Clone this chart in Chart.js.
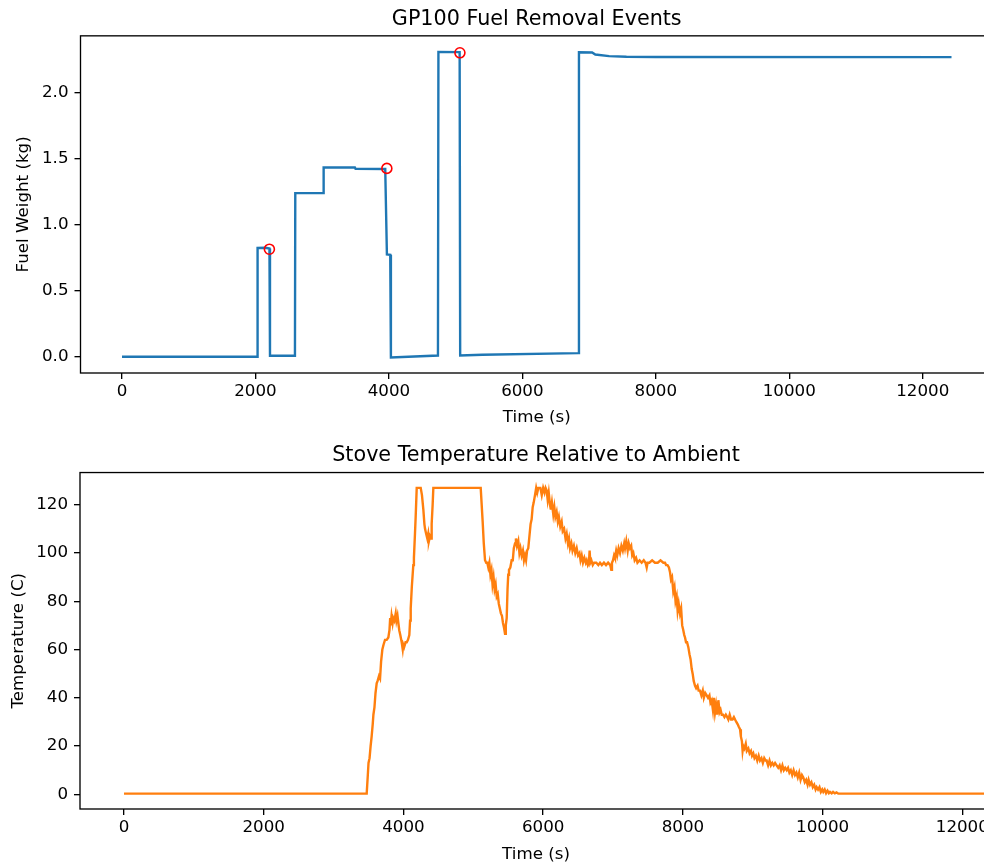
<!DOCTYPE html>
<html><head><meta charset="utf-8">
<script src="https://cdn.jsdelivr.net/npm/chart.js@4.4.0/dist/chart.umd.min.js"></script>
<style>
html,body{margin:0;padding:0;background:#fff;overflow:hidden;width:984px;height:863px;position:relative;}
#c1{position:absolute;left:0;top:0;}
#c2{position:absolute;left:0;top:430px;}
</style></head><body>
<canvas id="c1" width="993" height="430"></canvas>
<canvas id="c2" width="992" height="440"></canvas>
<script>
// ---------- data ----------
const fuelTitle = 'GP100 Fuel Removal Events';
const tempTitle = 'Stove Temperature Relative to Ambient';
const xLabel = 'Time (s)';
const fuelLabel = 'Fuel Weight (kg)';
const tempLabel = 'Temperature (C)';
const xTicks = [0, 2000, 4000, 6000, 8000, 10000, 12000];
const fuelTicks = [0.0, 0.5, 1.0, 1.5, 2.0];
const tempTicks = [0, 20, 40, 60, 80, 100, 120];

// fuel weight [time s, kg]
const fuelPoints = [
  [0, 0.003], [2028, 0.003], [2032, 0.824], [2150, 0.826], [2210, 0.82], [2218, 0.01],
  [2592, 0.01], [2597, 1.238], [3015, 1.238], [3022, 1.433], [3490, 1.432], [3500, 1.422],
  [3945, 1.42], [3970, 0.775], [4020, 0.772], [4030, -0.003], [4735, 0.012], [4742, 2.305],
  [5060, 2.303], [5068, 0.012], [5400, 0.018], [6840, 0.03], [6848, 2.302], [7045, 2.3],
  [7093, 2.285], [7300, 2.273], [7560, 2.268], [8000, 2.266], [12431, 2.265]
];
// removal events [time s, kg]
const removalEvents = [[2209, 0.815], [3969, 1.425], [5064, 2.298]];

// stove temperature relative to ambient [time s, C]
const tempPoints = [
  [0,0.3],[3474,0.3],[3490,8],[3500,13],[3515,15],[3530,20],[3545,24],[3560,29],[3570,33],[3585,36],
  [3600,42],[3617,46],[3630,47],[3650,49],[3665,48],[3680,55],[3698,60],[3715,62],[3736,64],[3760,64],
  [3784,65],[3800,68],[3810,73],[3817,70],[3830,74],[3845,71],[3855,73],[3870,72],[3889,75],[3900,72],
  [3915,74],[3927,71],[3940,68],[3955,66],[3975,63],[3990,60],[3998,62],[4010,61],[4030,63],[4047,63],
  [4065,64],[4084,66],[4095,72],[4104,77],[4120,86],[4141,95],[4150,98],[4165,108],[4175,115],[4190,127],
  [4247,127],[4265,124],[4285,118],[4300,112],[4309,110],[4325,108],[4342,106],[4355,108],[4365,105],[4380,107],
  [4395,106],[4404,112],[4418,120],[4428,127],[5106,127],[5120,120],[5134,113],[5150,104],[5168,97],[5185,96],
  [5200,96],[5215,94],[5230,96],[5245,91],[5260,93],[5275,87],[5290,90],[5305,85],[5320,87],[5335,82],
  [5350,83],[5365,79],[5380,77],[5395,75],[5410,74],[5425,71],[5440,69],[5454,66.5],[5465,70],[5478,73],
  [5490,85],[5500,91],[5511,93],[5530,94],[5549,97],[5565,97],[5580,102],[5597,104],[5610,106],[5625,103],
  [5644,105],[5660,100],[5675,102],[5692,99],[5710,101],[5725,97],[5740,99],[5755,97],[5770,101],[5787,102],
  [5800,106],[5820,112],[5835,114],[5850,119],[5865,121],[5883,124],[5900,127],[5915,125],[5931,127],[5960,127],
  [5980,124],[6000,127],[6020,125],[6035,127],[6050,126],[6065,122],[6080,125],[6098,120],[6110,118],[6125,121],
  [6145,116],[6160,119],[6175,115],[6193,117],[6210,113],[6225,115],[6245,111],[6265,113],[6280,109],[6300,110],
  [6320,106],[6337,108],[6355,104],[6370,106],[6385,102],[6404,104],[6420,101],[6440,103],[6460,100],[6480,102],
  [6500,99],[6520,100],[6535,97],[6552,99],[6570,96],[6590,98],[6610,96],[6623,97],[6640,95],[6655,96],
  [6665,101],[6675,96],[6690,97],[6710,95],[6730,96],[6760,96],[6790,95],[6814,96],[6840,95],[6870,96],
  [6900,95],[6930,96],[6960,95],[6975,93],[6985,96],[7000,97],[7015,99],[7028,98],[7045,101],[7060,99],
  [7080,102],[7100,100],[7120,103],[7140,101],[7160,104],[7172,102],[7190,105],[7210,101],[7225,104],[7243,102],
  [7260,103],[7275,99],[7291,100],[7310,97],[7330,98],[7350,96],[7380,97],[7410,96],[7440,97],[7465,96],
  [7482,94],[7495,96],[7520,96],[7560,97],[7600,96],[7640,96],[7680,97],[7720,96],[7744,96],[7760,95],
  [7780,95],[7800,94],[7816,92],[7830,89],[7845,90],[7863,84],[7880,86],[7895,80],[7911,82],[7925,76],
  [7940,79],[7959,75],[7975,77],[7990,70],[8006,68],[8020,66],[8031,65],[8045,63],[8060,63],[8078,61],
  [8095,58],[8110,56],[8126,52],[8140,50],[8155,47],[8174,45],[8190,44],[8210,45],[8225,43],[8245,43],
  [8265,41],[8285,43],[8300,40],[8320,42],[8341,41],[8360,40],[8380,41],[8395,38],[8412,39],[8430,35],
  [8445,40],[8460,34],[8475,37],[8490,33],[8508,39],[8525,34],[8540,35],[8556,33],[8575,33],[8595,32],
  [8615,33],[8635,32],[8651,31],[8670,33],[8690,31],[8710,31],[8730,32],[8747,31],[8765,30],[8785,29],
  [8800,28],[8818,27],[8830,24],[8845,22],[8855,18],[8865,20],[8880,19],[8900,21],[8915,18],[8937,19],
  [8955,17],[8975,18],[8990,16],[9008,17],[9025,15],[9045,16],[9065,14],[9085,16],[9104,14],[9125,15],
  [9145,13],[9165,15],[9185,14],[9199,14],[9220,12],[9240,14],[9260,12],[9280,13],[9300,12],[9320,13],
  [9342,12],[9365,11],[9385,12],[9405,10],[9425,12],[9445,10],[9465,11],[9486,10],[9505,11],[9525,9],
  [9545,10],[9565,8],[9585,10],[9605,8],[9625,9],[9645,7],[9665,9],[9685,6],[9705,8],[9724,7],
  [9745,5],[9765,6],[9785,4],[9800,6],[9820,4],[9840,5],[9860,3],[9880,4],[9900,2],[9915,3],
  [9935,2],[9955,3],[9975,1],[9995,2],[10010,1],[10030,2],[10050,0.5],[10070,1.5],[10090,0.5],[10106,1],
  [10130,0.4],[10150,1],[10175,0.4],[10200,0.8],[10225,0.3],[12600,0.3]
];

// ---------- helpers ----------
Chart.defaults.font.family = "'DejaVu Sans', sans-serif";
Chart.defaults.color = '#000';
const toXY = arr => arr.map(([x, y]) => ({x, y}));

const framePlugin = {
  id: 'frame',
  afterDatasetsDraw(chart) {
    const {ctx, chartArea: a} = chart;
    ctx.save();
    ctx.strokeStyle = '#000';
    ctx.lineWidth = 1.33;
    ctx.strokeRect(a.left, a.top, a.right - a.left, a.bottom - a.top);
    ctx.restore();
  }
};

function makeOptions(cfg) {
  return {
    responsive: false,
    animation: false,
    layout: {padding: 0, autoPadding: false},
    plugins: {
      legend: {display: false},
      tooltip: {enabled: false},
      title: {
        display: true, text: cfg.title, color: '#000', fullSize: false,
        font: {size: 20.7, weight: 'normal'},
        padding: cfg.titlePad
      }
    },
    scales: {
      x: {
        type: 'linear', min: cfg.xMin, max: cfg.xMax,
        border: {display: false},
        grid: {drawOnChartArea: false, drawTicks: true, tickLength: 6, color: '#000', lineWidth: 1.33},
        ticks: {font: {size: 16.7}, color: '#000', padding: 3, maxRotation: 0,
                callback: v => String(v)},
        afterBuildTicks: s => { s.ticks = xTicks.map(v => ({value: v})); },
        afterFit: s => { s.height = cfg.xHeight; },
        title: {display: true, text: xLabel, color: '#000', font: {size: 16.7},
                padding: {top: 0, bottom: cfg.xTitlePad}}
      },
      y: {
        type: 'linear', min: cfg.yMin, max: cfg.yMax,
        border: {display: false},
        grid: {drawOnChartArea: false, drawTicks: true, tickLength: 6, color: '#000', lineWidth: 1.33},
        ticks: {font: {size: 16.7}, color: '#000', padding: 6,
                callback: cfg.yFmt},
        afterBuildTicks: s => { s.ticks = cfg.yTicks.map(v => ({value: v})); },
        afterFit: s => { s.width = cfg.yWidth; },
        title: {display: true, text: cfg.yLabel, color: '#000', font: {size: 16.7},
                padding: {top: cfg.yTitlePad, bottom: 0}}
      }
    }
  };
}

new Chart(document.getElementById('c1'), {
  type: 'line',
  data: {
    datasets: [
      {
        label: 'Removal events', data: toXY(removalEvents), showLine: false, order: 0,
        pointRadius: 5, pointBorderWidth: 1.6, pointBorderColor: '#ff0000',
        pointBackgroundColor: 'rgba(0,0,0,0)', pointStyle: 'circle'
      },
      {
        label: 'Fuel weight', data: toXY(fuelPoints), order: 1,
        borderColor: '#1f77b4', borderWidth: 2.4, pointRadius: 0, tension: 0, fill: false
      }
    ]
  },
  options: makeOptions({
    title: fuelTitle, titlePad: {top: 7, bottom: 4}, xHeight: 57, xTitlePad: 2,
    xMin: -621.6, xMax: 13052.6, yWidth: 80.5,
    yMin: -0.120, yMax: 2.426, yTicks: fuelTicks, yLabel: fuelLabel, yTitlePad: 13.3,
    yFmt: v => v.toFixed(1)
  }),
  plugins: [framePlugin]
});

new Chart(document.getElementById('c2'), {
  type: 'line',
  data: {
    datasets: [
      {
        label: 'Temperature', data: toXY(tempPoints),
        borderColor: '#ff7f0e', borderWidth: 2.4, pointRadius: 0, tension: 0, fill: false
      }
    ]
  },
  options: makeOptions({
    title: tempTitle, titlePad: {top: 13, bottom: 4.7}, xHeight: 61, xTitlePad: 5.8,
    xMin: -630, xMax: 12425, yWidth: 80,
    yMin: -6.07, yMax: 133.35, yTicks: tempTicks, yLabel: tempLabel, yTitlePad: 8.3,
    yFmt: v => String(v)
  }),
  plugins: [framePlugin]
});
</script>
</body></html>
